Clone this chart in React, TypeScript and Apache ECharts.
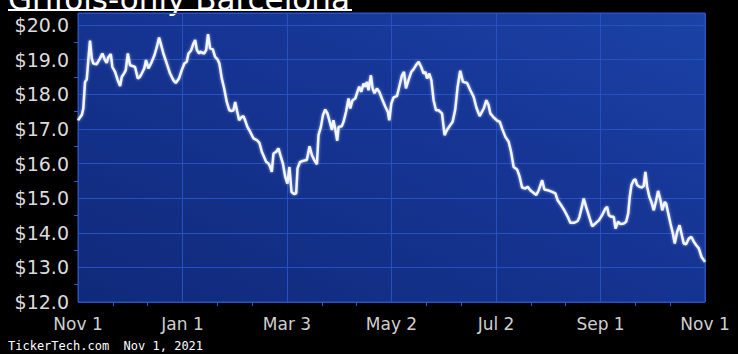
import React, { useEffect, useRef } from "react";
import * as echarts from "echarts";

const titleText = "Grifols-only Barcelona";
const footerText = "TickerTech.com  Nov 1, 2021";
const xTickLabels = ["Nov 1", "Jan 1", "Mar 3", "May 2", "Jul 2", "Sep 1", "Nov 1"];
const totalDays = 365;

// day offsets from Nov 1, 2020
const dayOffsets = [
  0, 2.2, 3.1, 4.1, 5.1, 6.0, 7.0, 8.0, 8.9, 10.9, 12.8, 14.2, 15.7, 16.7, 17.7, 19.1, 20.0, 21.6, 23.1, 24.5,
  25.5, 27.0, 27.8, 29.0, 30.3, 31.6, 33.2, 34.8, 36.1, 37.1, 38.6, 39.6, 41.0, 42.5, 44.5, 45.9, 47.2, 48.4,
  49.7, 51.7, 53.6, 55.5, 56.9, 58.8, 60.4, 61.9, 63.3, 64.3, 65.8, 67.2, 68.2, 69.2, 70.5, 71.1, 73.4, 74.6,
  75.7, 76.9, 78.5, 79.8, 81.2, 82.3, 83.7, 85.1, 86.6, 88.1, 89.5, 90.5, 91.5, 92.5, 93.8, 95.4, 96.3, 97.3,
  98.6, 100.2, 102.1, 104.1, 105.6, 107.0, 108.4, 109.5, 110.9, 111.9, 112.8, 113.8, 115.4, 116.7, 118.1,
  119.3, 120.6, 121.9, 123.1, 124.3, 125.8, 127.0, 127.8, 129.3, 131.3, 133.2, 134.8, 136.2, 137.5, 139.1,
  140.0, 141.4, 142.6, 143.9, 145.2, 146.8, 147.8, 148.7, 149.7, 150.9, 151.7, 153.6, 154.6, 156.0, 157.5,
  158.5, 159.8, 161.4, 163.0, 163.7, 164.9, 166.2, 167.2, 168.2, 169.1, 170.5, 171.5, 172.6, 174.0, 175.4,
  176.9, 178.9, 180.4, 181.2, 182.4, 183.7, 185.7, 187.0, 188.6, 189.8, 190.9, 192.4, 194.0, 195.3, 196.7,
  198.3, 199.8, 201.2, 202.2, 203.2, 204.5, 205.7, 207.0, 208.4, 209.9, 211.9, 213.4, 214.8, 216.7, 218.1,
  219.6, 221.0, 222.5, 224.1, 226.5, 228.4, 230.3, 231.9, 233.8, 236.2, 237.7, 239.0, 240.0, 242.0, 244.3,
  245.5, 246.9, 248.8, 250.7, 252.1, 253.6, 255.6, 257.1, 258.5, 260.4, 261.8, 263.3, 265.3, 266.8, 268.2,
  270.2, 271.5, 273.4, 276.0, 277.9, 279.2, 281.2, 283.1, 285.1, 286.6, 289.0, 290.9, 291.9, 293.4, 294.4,
  295.8, 297.3, 299.3, 301.2, 303.2, 305.1, 307.0, 308.0, 309.0, 310.5, 311.9, 312.9, 314.4, 315.8, 317.7,
  319.1, 320.3, 321.2, 322.2, 323.5, 324.5, 325.5, 326.8, 328.4, 329.3, 330.3, 331.3, 332.6, 333.8, 335.2,
  336.6, 337.7, 339.1, 340.1, 341.6, 342.4, 343.6, 344.9, 346.3, 347.4, 348.8, 350.2, 351.3, 352.6, 354.0,
  355.5, 357.1, 358.5, 359.9, 361.4, 363.0, 364.3, 365,
];

const prices = [
  17.25, 17.40, 17.59, 18.36, 18.43, 18.99, 19.55, 19.04, 18.89, 18.87, 19.04, 19.18, 18.99, 18.91, 19.08, 19.16, 18.79, 18.65, 18.41, 18.24,
  18.51, 18.62, 18.70, 19.18, 18.84, 18.82, 18.79, 18.46, 18.51, 18.60, 18.75, 18.99, 18.75, 18.89, 19.13, 19.37, 19.64, 19.42,
  19.18, 18.89, 18.60, 18.41, 18.33, 18.46, 18.70, 18.89, 18.94, 19.18, 19.26, 19.47, 19.57, 19.28, 19.18, 19.23, 19.18, 19.28,
  19.74, 19.33, 19.30, 19.08, 19.01, 18.89, 18.46, 18.17, 17.78, 17.54, 17.52, 17.54, 17.78, 17.54, 17.25, 17.35, 17.37, 17.25,
  17.06, 16.92, 16.73, 16.68, 16.60, 16.34, 16.18, 16.05, 16.00, 15.90, 15.76, 16.29, 16.34, 16.44, 16.19,
  16.00, 15.62, 15.42, 15.90, 15.18, 15.12, 15.14, 15.86, 16.05, 16.08, 16.10, 16.50, 16.24, 16.10, 15.98,
  16.82, 17.06, 17.40, 17.56, 17.45, 17.16, 16.97, 17.25, 17.01, 16.66, 17.06, 17.08, 17.21, 17.49, 17.88,
  17.59, 17.83, 17.88, 18.12, 18.22, 18.07, 18.31, 18.22, 18.36, 18.12, 18.55, 18.17, 18.03, 18.17, 18.07,
  17.88, 17.64, 17.49, 17.25, 17.74, 17.91, 17.95, 18.22, 18.55, 18.65, 18.17, 18.41, 18.65, 18.72, 18.84,
  18.94, 18.79, 18.60, 18.65, 18.46, 18.60, 18.41, 17.83, 17.54, 17.54, 17.45, 16.82, 16.97, 17.11, 17.21,
  17.56, 18.22, 18.68, 18.36, 18.33, 18.12, 17.93, 17.62, 17.37, 17.59, 17.83, 17.69, 17.45, 17.33, 17.23,
  17.21, 17.01, 16.77, 16.63, 16.34, 15.90, 15.83, 15.62, 15.31, 15.28, 15.33, 15.23, 15.15, 15.09, 15.23,
  15.52, 15.25, 15.23, 15.18, 15.14, 14.94, 14.80, 14.65, 14.46, 14.29, 14.29, 14.34, 14.46, 14.77, 14.99,
  14.75, 14.51, 14.19, 14.27, 14.36, 14.51, 14.70, 14.75, 14.51, 14.46, 14.46, 14.12, 14.32, 14.25, 14.27,
  14.32, 14.56, 15.04, 15.38, 15.52, 15.54, 15.38, 15.33, 15.31, 15.35, 15.76, 15.33, 15.04, 14.89, 14.65,
  14.94, 15.21, 14.94, 14.65, 14.89, 14.84, 14.56, 14.27, 13.98, 13.69, 14.03, 14.22, 13.98, 13.69, 13.67,
  13.83, 13.88, 13.74, 13.64, 13.55, 13.30, 13.21, 13.16,
];

const yMin = 12;
const yMax = 20.35;

export default function App() {
  const ref = useRef<HTMLDivElement>(null);

  useEffect(() => {
    document.body.style.margin = "0";
    document.body.style.background = "#000";
    if (!ref.current) return;
    const chart = echarts.init(ref.current, null, { renderer: "svg" });
    const xInterval = totalDays / 6;
    const gridColor = "#2750c0";
    chart.setOption({
      animation: false,
      backgroundColor: "#000000",
      grid: {
        left: 78,
        right: 33,
        top: 13,
        bottom: 52,
        show: true,
        borderColor: "#2a54c4",
        borderWidth: 1,
        backgroundColor: new echarts.graphic.LinearGradient(1, 0, 0, 1, [
          { offset: 0, color: "#1b42a6" },
          { offset: 0.4, color: "#163595" },
          { offset: 1, color: "#102a7a" },
        ]),
      },
      xAxis: {
        type: "value",
        min: 0,
        max: totalDays,
        interval: xInterval,
        axisLine: { show: false },
        axisTick: { show: false },
        minorTick: { show: true, splitNumber: 3, length: 4, lineStyle: { color: "#2d5ad0" } },
        splitLine: { show: true, lineStyle: { color: gridColor, width: 1 } },
        axisLabel: {
          color: "#cfcfcf",
          fontFamily: "DejaVu Sans",
          fontSize: 17,
          margin: 13,
          formatter: (v: number) => {
            const idx = Math.round(v / xInterval);
            if (Math.abs(v / xInterval - idx) > 0.01) return "";
            return xTickLabels[idx] ?? "";
          },
        },
      },
      yAxis: {
        type: "value",
        min: yMin,
        max: yMax,
        interval: 1,
        axisLine: { show: false },
        axisTick: { show: false },
        minorTick: { show: true, splitNumber: 2, length: 4, lineStyle: { color: "#2d5ad0" } },
        splitLine: { show: true, lineStyle: { color: gridColor, width: 1 } },
        axisLabel: {
          color: "#dcdcdc",
          fontFamily: "DejaVu Sans",
          fontSize: 19,
          margin: 9,
          formatter: (v: number) => (Math.abs(v - Math.round(v)) > 0.001 ? "" : "$" + v.toFixed(1)),
        },
      },
      series: [
        {
          type: "line",
          data: dayOffsets.map((d, i) => [d, prices[i]]),
          showSymbol: false,
          symbol: "none",
          lineStyle: {
            color: "#f4f6ff",
            width: 2.5,
            shadowColor: "rgba(200,215,255,0.7)",
            shadowBlur: 3,
          },
        },
      ],
      graphic: [
        {
          type: "text",
          left: 8,
          top: -17,
          style: {
            text: titleText,
            fill: "#ffffff",
            font: "31px 'DejaVu Sans'",
          },
        },
        {
          type: "rect",
          shape: { x: 8, y: 9, width: 344, height: 2 },
          style: { fill: "#ffffff" },
        },
        {
          type: "text",
          left: 8,
          top: 340,
          style: {
            text: footerText,
            fill: "#ffffff",
            font: "12px 'DejaVu Sans Mono'",
          },
        },
      ],
    });
    return () => chart.dispose();
  }, []);

  return <div ref={ref} style={{ width: 738, height: 354, background: "#000" }} />;
}
